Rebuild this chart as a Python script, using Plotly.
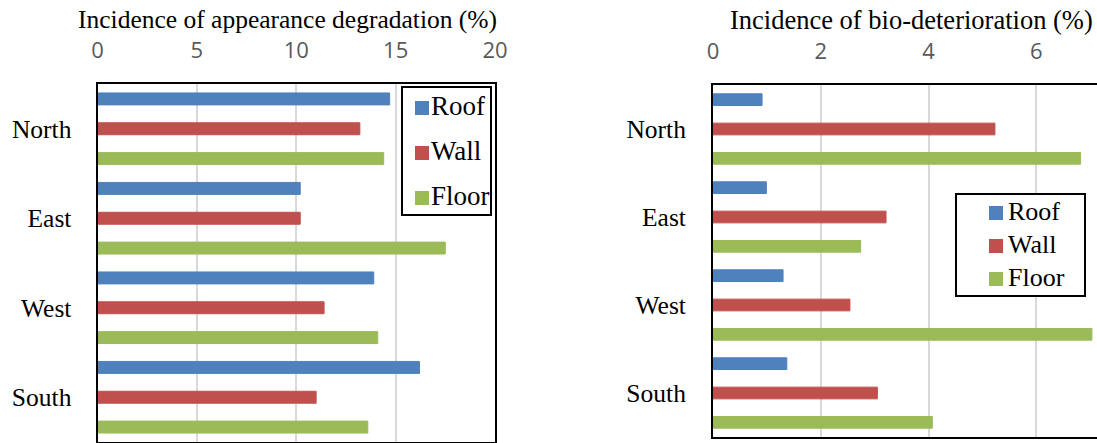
import plotly.graph_objects as go

# Orientation categories (top to bottom)
orientations = ["North", "East", "West", "South"]
series_names = ["Roof", "Wall", "Floor"]
series_colors = ["#4F81BD", "#C0504D", "#9BBB59"]

# Incidence of appearance degradation (%)
appearance_roof = [14.7, 10.2, 13.9, 16.2]
appearance_wall = [13.2, 10.2, 11.4, 11.0]
appearance_floor = [14.4, 17.5, 14.1, 13.6]

# Incidence of bio-deterioration (%)
bio_roof = [0.91, 0.99, 1.30, 1.37]
bio_wall = [5.23, 3.21, 2.54, 3.05]
bio_floor = [6.82, 2.74, 7.03, 4.07]

appearance_ticks = [0, 5, 10, 15, 20]
bio_ticks = [0, 2, 4, 6]

W, H = 1097, 443
SERIF = "Liberation Serif, Times New Roman, serif"
SANS = "Open Sans"

fig = go.Figure()

left_sets = [appearance_roof, appearance_wall, appearance_floor]
right_sets = [bio_roof, bio_wall, bio_floor]

for name, color, vals in zip(series_names, series_colors, left_sets):
    fig.add_trace(go.Bar(
        y=orientations, x=vals, name=name, orientation="h",
        marker=dict(color=color, line=dict(color=color, width=1)),
        xaxis="x", yaxis="y", showlegend=False,
    ))

for name, color, vals in zip(series_names, series_colors, right_sets):
    fig.add_trace(go.Bar(
        y=orientations, x=vals, name=name, orientation="h",
        marker=dict(color=color, line=dict(color=color, width=1)),
        xaxis="x2", yaxis="y2", showlegend=False,
    ))


def px_x(p):
    return p / W


def px_y(p):
    return (H - p) / H


grid = "#D9D9D9"
tickfont = dict(family=SANS, size=22, color="#595959")
catfont = dict(family=SERIF, size=25.5, color="#000000")

shapes = []
annotations = [
    dict(text="Incidence of appearance degradation (%)", xref="paper", yref="paper",
         x=px_x(287), y=px_y(20), xanchor="center", yanchor="middle",
         showarrow=False, font=dict(family=SERIF, size=25.5, color="black")),
    dict(text="Incidence of bio-deterioration (%)", xref="paper", yref="paper",
         x=px_x(911), y=px_y(20), xanchor="center", yanchor="middle",
         showarrow=False, font=dict(family=SERIF, size=26.5, color="black")),
]


def add_legend(box, key_x, text_x, rows, size):
    """Boxed legend: box=(x0, y0, x1, y1) in pixels, rows = y centre of each entry."""
    x0, y0, x1, y1 = box
    shapes.append(dict(type="rect", xref="paper", yref="paper",
                       x0=px_x(x0), x1=px_x(x1), y0=px_y(y1), y1=px_y(y0),
                       fillcolor="white", line=dict(color="black", width=2),
                       layer="above"))
    for name, color, yc in zip(series_names, series_colors, rows):
        shapes.append(dict(type="rect", xref="paper", yref="paper",
                           x0=px_x(key_x), x1=px_x(key_x + 14),
                           y0=px_y(yc + 9), y1=px_y(yc - 5),
                           fillcolor=color, line=dict(width=0), layer="above"))
        annotations.append(dict(text=name, xref="paper", yref="paper",
                                x=px_x(text_x), y=px_y(yc), xanchor="left",
                                yanchor="middle", showarrow=False,
                                font=dict(family=SERIF, size=size, color="black")))


add_legend((402, 87, 491, 215), 415, 429, [106, 151, 196], 27)
add_legend((956, 194, 1085, 296), 989, 1006, [211, 244, 277], 26)

fig.update_layout(
    width=W, height=H,
    font=dict(family=SERIF),
    margin=dict(l=0, r=0, t=0, b=0, autoexpand=False),
    paper_bgcolor="white", plot_bgcolor="white",
    barmode="group", bargap=0.0, bargroupgap=0.6,
    showlegend=False,
    xaxis=dict(
        domain=[px_x(97.5), px_x(495)], anchor="y", side="top",
        range=[0, 20], tickvals=appearance_ticks, tickfont=tickfont,
        showgrid=True, gridcolor=grid, gridwidth=2, zeroline=False,
        showline=True, linecolor="black", linewidth=2, mirror=True,
        ticks="", ticklabelstandoff=15,
    ),
    yaxis=dict(
        domain=[px_y(442), px_y(84)], anchor="x",
        autorange="reversed", tickfont=catfont,
        showline=True, linecolor="black", linewidth=2, mirror=True,
        showgrid=False, ticks="", ticklabelstandoff=19,
    ),
    xaxis2=dict(
        domain=[px_x(713), 1.0], anchor="y2", side="top",
        range=[0, (W - 713) / 53.9], tickvals=bio_ticks, tickfont=tickfont,
        showgrid=True, gridcolor=grid, gridwidth=2, zeroline=False,
        showline=True, linecolor="black", linewidth=2, mirror=True,
        ticks="", ticklabelstandoff=15,
    ),
    yaxis2=dict(
        domain=[px_y(437), px_y(85)], anchor="x2",
        autorange="reversed", tickfont=catfont,
        showline=True, linecolor="black", linewidth=2, mirror=False,
        showgrid=False, ticks="", ticklabelstandoff=20,
    ),
    shapes=shapes,
    annotations=annotations,
)

fig.write_html("out.html")
